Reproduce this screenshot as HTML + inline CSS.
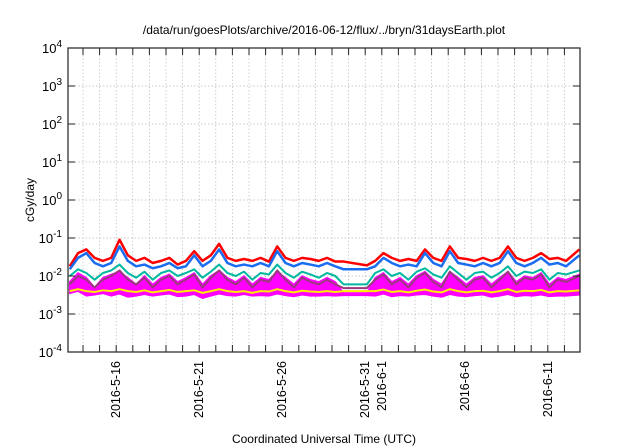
<!DOCTYPE html>
<html><head><meta charset="utf-8">
<style>
body{margin:0;background:#fff;}
svg{display:block;font-family:"Liberation Sans",sans-serif;}
</style></head>
<body>
<svg id="chart" width="640" height="448">
<text x="324" y="34" font-size="12" text-anchor="middle">/data/run/goesPlots/archive/2016-06-12/flux/../bryn/31daysEarth.plot</text>
<text transform="translate(34,200) rotate(-90)" font-size="12" text-anchor="middle">cGy/day</text>
<text x="324" y="443" font-size="12" text-anchor="middle">Coordinated Universal Time (UTC)</text>
<g id="grid"></g><g id="series"></g><g id="axes"></g>
</svg>
<script>
const times=[0.2,0.7,1.2,1.7,2.2,2.7,3.2,3.7,4.2,4.7,5.2,5.7,6.2,6.7,7.2,7.7,8.2,8.7,9.2,9.7,10.2,10.7,11.2,11.7,12.2,12.7,13.2,13.7,14.2,14.7,15.2,15.7,16.2,16.7,
18.1,18.6,19.1,19.6,20.1,20.6,21.1,21.6,22.1,22.6,23.1,23.6,24.1,24.6,25.1,25.6,26.1,26.6,27.1,27.6,28.1,28.6,29.1,29.6,30.1,30.9];
const red=[0.018,0.04,0.05,0.03,0.025,0.03,0.09,0.035,0.025,0.03,0.022,0.025,0.03,0.02,0.025,0.045,0.025,0.035,0.07,0.03,0.025,0.028,0.025,0.03,0.024,0.06,0.03,0.025,0.03,0.028,0.025,0.03,0.024,0.024,
0.019,0.025,0.04,0.03,0.025,0.028,0.025,0.05,0.03,0.025,0.06,0.03,0.028,0.025,0.03,0.025,0.03,0.06,0.03,0.025,0.03,0.04,0.028,0.03,0.025,0.05];
const blue=[0.015,0.03,0.04,0.022,0.018,0.022,0.06,0.025,0.018,0.02,0.016,0.018,0.022,0.016,0.018,0.035,0.018,0.025,0.05,0.022,0.018,0.02,0.018,0.022,0.018,0.045,0.022,0.018,0.022,0.02,0.018,0.022,0.018,0.015,
0.015,0.018,0.03,0.022,0.018,0.02,0.018,0.04,0.022,0.018,0.045,0.022,0.02,0.018,0.022,0.018,0.022,0.045,0.022,0.018,0.022,0.03,0.02,0.022,0.018,0.035];
const teal=[0.01,0.015,0.012,0.008,0.012,0.014,0.02,0.012,0.009,0.013,0.008,0.012,0.014,0.01,0.012,0.015,0.009,0.013,0.02,0.012,0.01,0.013,0.008,0.012,0.011,0.02,0.012,0.009,0.013,0.011,0.009,0.012,0.01,0.006,
0.006,0.012,0.015,0.01,0.012,0.008,0.013,0.016,0.011,0.009,0.018,0.012,0.008,0.012,0.013,0.009,0.012,0.018,0.01,0.013,0.012,0.015,0.008,0.012,0.011,0.014];
const purple=[0.006,0.01,0.008,0.005,0.008,0.01,0.014,0.008,0.006,0.009,0.005,0.008,0.01,0.006,0.008,0.011,0.005,0.009,0.014,0.008,0.006,0.009,0.005,0.008,0.007,0.014,0.008,0.005,0.009,0.007,0.006,0.008,0.006,0.0048,
0.0048,0.008,0.011,0.006,0.008,0.005,0.009,0.012,0.007,0.005,0.013,0.008,0.005,0.008,0.009,0.005,0.008,0.013,0.006,0.009,0.008,0.011,0.005,0.008,0.007,0.01];
const yellow=[0.004,0.0045,0.004,0.0038,0.0042,0.004,0.0045,0.004,0.0038,0.0042,0.0037,0.004,0.0043,0.0038,0.004,0.0042,0.0036,0.004,0.0045,0.004,0.0038,0.004,0.0036,0.004,0.0039,0.0045,0.004,0.0037,0.0041,0.0039,0.0038,0.004,0.0038,0.004,
0.004,0.004,0.0044,0.0038,0.004,0.0037,0.0041,0.0044,0.0039,0.0037,0.0045,0.004,0.0037,0.004,0.0041,0.0037,0.004,0.0045,0.0038,0.0041,0.004,0.0043,0.0037,0.004,0.0039,0.0042];
const magHi=[0.007,0.012,0.009,0.005,0.009,0.011,0.013,0.009,0.006,0.01,0.006,0.009,0.011,0.007,0.009,0.012,0.006,0.01,0.014,0.009,0.007,0.01,0.006,0.009,0.008,0.013,0.009,0.006,0.01,0.008,0.007,0.009,0.007,0.0036,
0.0036,0.009,0.012,0.007,0.009,0.006,0.01,0.013,0.008,0.006,0.013,0.009,0.006,0.009,0.01,0.006,0.009,0.013,0.007,0.01,0.009,0.012,0.006,0.009,0.008,0.011];
const magLo=[0.0035,0.004,0.003,0.0032,0.0035,0.003,0.0034,0.0028,0.003,0.0033,0.003,0.0032,0.0034,0.0029,0.003,0.0033,0.0026,0.003,0.0034,0.0031,0.003,0.0033,0.003,0.0031,0.003,0.0034,0.0031,0.0029,0.0032,0.003,0.003,0.0031,0.003,0.0031,
0.0031,0.003,0.0034,0.0029,0.0031,0.003,0.0032,0.0033,0.003,0.0028,0.0033,0.003,0.0029,0.0031,0.0032,0.0028,0.003,0.0033,0.0029,0.0031,0.003,0.0032,0.0029,0.003,0.003,0.0032];
const yTicks=[-4,-3,-2,-1,0,1,2,3,4];
const xLabels=[[3,"2016-5-16"],[8,"2016-5-21"],[13,"2016-5-26"],[18,"2016-5-31"],[19,"2016-6-1"],[24,"2016-6-6"],[29,"2016-6-11"]];

const L=68,R=580,T=48,B=352,NS="http://www.w3.org/2000/svg";
const xS=d=>66.4+d*16.6;
const yS=v=>B-(Math.log10(v)+4)*(B-T)/8;
const yE=e=>B-(e+4)*(B-T)/8;
function mk(tag,attrs,parent){const e=document.createElementNS(NS,tag);for(const k in attrs)e.setAttribute(k,attrs[k]);parent.appendChild(e);return e;}
const grid=document.getElementById('grid'),ser=document.getElementById('series'),ax=document.getElementById('axes');
for(let d=1;d<=30;d++){
  const x=xS(d);
  const g=mk('line',{x1:x,x2:x,y1:T,y2:B,stroke:'#bbb','stroke-width':0.7,'stroke-dasharray':'1.5,2'},grid);
  
  
  const t1=mk('line',{x1:x,x2:x,y1:B,y2:B-7,stroke:'#222','stroke-width':1},ax);
  
  
  const t2=mk('line',{x1:x,x2:x,y1:T,y2:T+7,stroke:'#222','stroke-width':1},ax);
  
  
}
yTicks.forEach(e=>{
  const y=yE(e);
  if(e>-4&&e<4){const g=mk('line',{x1:L,x2:R,y1:y,y2:y,stroke:'#bbb','stroke-width':0.7,'stroke-dasharray':'1.5,2'},grid);
  
  }
  const t1=mk('line',{x1:L,x2:L+7,y1:y,y2:y,stroke:'#222'},ax);
  
  
  const t2=mk('line',{x1:R,x2:R-7,y1:y,y2:y,stroke:'#222'},ax);
  
  
  const tx=mk('text',{x:62,y:y+5,'font-size':13,'text-anchor':'end'},ax);
  
  
  tx.appendChild(document.createTextNode('10'));
  const sp=mk('tspan',{dy:-6,'font-size':10},tx);sp.textContent=String(e);
});
xLabels.forEach(([d,s])=>{
  const x=xS(d);
  const tx=mk('text',{transform:`translate(${x+4},361) rotate(-90)`,'font-size':12.5,'text-anchor':'end'},ax);
  
  
  tx.textContent=s;
});
const fr=mk('rect',{x:L,y:T,width:R-L,height:B-T,fill:'none',stroke:'#222','stroke-width':1.2},ax);


let pts=times.map((t,i)=>xS(t)+','+yS(magHi[i])).concat(times.map((t,i)=>xS(t)+','+yS(magLo[i])).reverse());
const ma=mk('polygon',{points:pts.join(' '),fill:'#ff00ff',stroke:'#ff00ff','stroke-width':1.5},ser);


[[yellow,'#ffee00','series-yellow',2],[purple,'#9a3a7a','series-purple',2],[teal,'#00b8a0','series-teal',2],[red,'#ff0000','series-red',2.5],[blue,'#1a6cf0','series-blue',2.5]].forEach(([arr,c,n,w])=>{
  const p=mk('polyline',{points:times.map((t,i)=>xS(t)+','+yS(arr[i])).join(' '),fill:'none',stroke:c,'stroke-width':w,'stroke-linejoin':'round'},ser);
  
  
});
</script>
</body></html>
